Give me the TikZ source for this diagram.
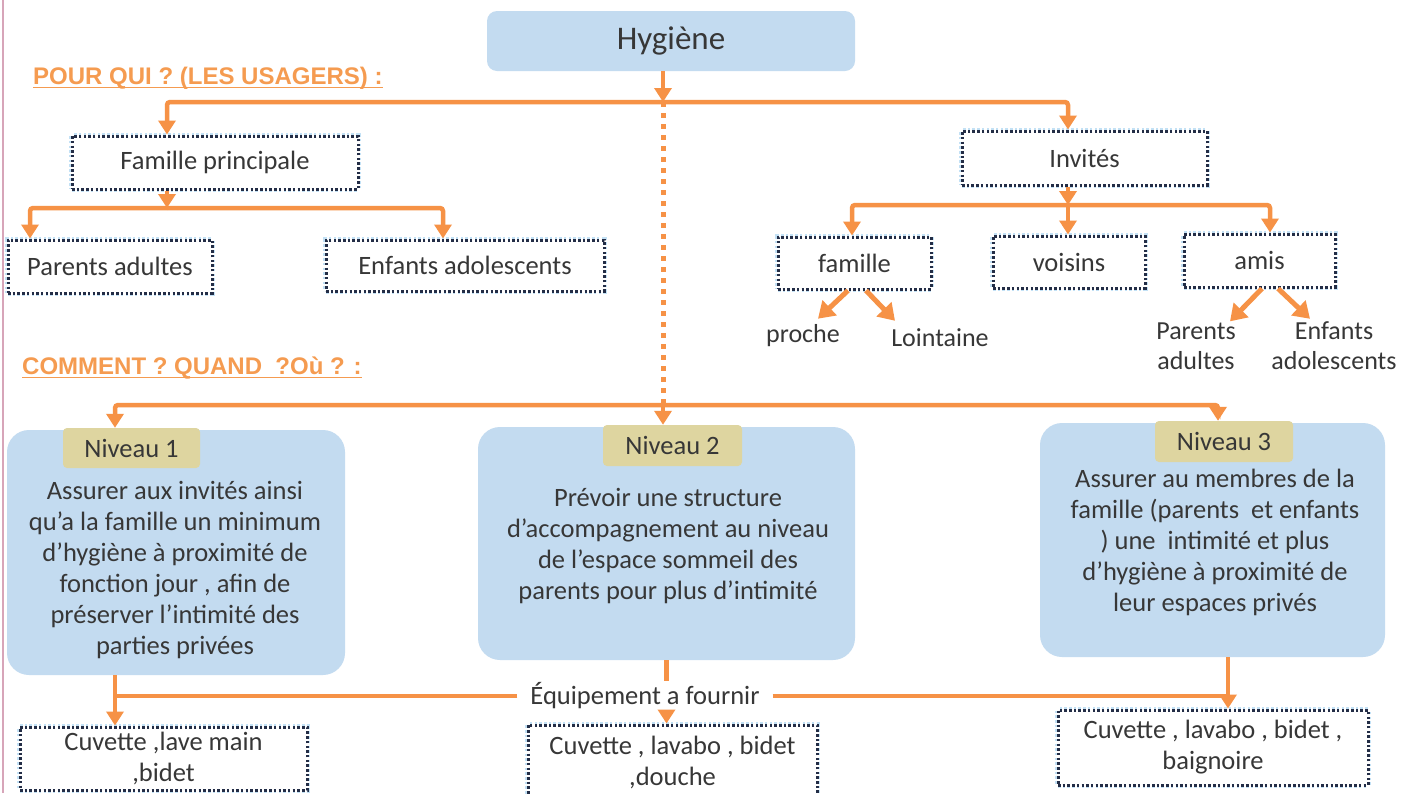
\documentclass[tikz,border=0pt]{standalone}
\usepackage{fontspec}
\setmainfont{Carlito}
\newfontfamily\headfont{Liberation Sans}
\usetikzlibrary{arrows.meta}
\definecolor{org}{RGB}{246,146,70}
\definecolor{headorg}{RGB}{245,155,80}
\definecolor{lblue}{RGB}{195,219,240}
\definecolor{tanlab}{RGB}{222,213,160}
\definecolor{dotc}{RGB}{35,45,70}
\definecolor{halo}{RGB}{195,225,245}
\definecolor{txt}{RGB}{55,55,55}
\definecolor{edgepink}{RGB}{215,165,185}
\newcommand{\orgul}[1]{\setbox0\hbox{#1}\rlap{\raisebox{-4pt}{\color{headorg}\rule{\wd0}{1.6pt}}}\box0}
\begin{document}
\begin{tikzpicture}[x=1pt,y=-1pt,
 every node/.style={text=txt, font=\fontsize{26.5}{31}\selectfont},
 dbox/.style={draw=dotc, line width=3pt, dash pattern=on 2.5pt off 2.2pt, fill=white, preaction={draw=halo, line width=6pt}, inner sep=0pt, align=center},
 bigbox/.style={fill=lblue, rounded corners=22pt, inner sep=0pt},
 lab/.style={fill=tanlab, rounded corners=4pt, inner sep=0pt, minimum width=137pt, minimum height=40pt},
 body/.style={align=center, inner sep=0pt},
 small/.style={align=center, inner sep=0pt, font=\fontsize{26}{30}\selectfont},
 conn/.style={draw=org, line width=4.5pt, rounded corners=3pt},
 arr/.style={conn, -{Triangle[width=17pt,length=14pt]}},
 arrd/.style={draw=org, line width=5pt, -{Triangle[width=20pt,length=16pt]}},
 dotline/.style={draw=org, line width=5pt, dash pattern=on 5pt off 6pt},
 head/.style={text=headorg, font=\headfont\bfseries\fontsize{24}{28}\selectfont, anchor=west, inner sep=0pt},
]
\useasboundingbox (0,0) rectangle (1417,793);
\fill[white] (0,0) rectangle (1417,793);
\draw[edgepink, line width=2pt] (3,0) -- (3,793);

% top
\node[bigbox, fill=lblue, rounded corners=10pt, minimum width=368pt, minimum height=60pt, font=\fontsize{33}{38}\selectfont] (hyg) at (671,41) {Hygiène};
\node[head] (h1) at (33,78) {\orgul{POUR QUI ? (LES USAGERS) :}};
\node[head] (h2) at (22,368) {\orgul{COMMENT ? QUAND \ ?Où ? :}};

% users
\node[dbox, minimum width=286pt, minimum height=53pt] (fp) at (215,162.5) {Famille principale};
\node[dbox, minimum width=204pt, minimum height=53pt] (pa) at (110,266.5) {Parents adultes};
\node[dbox, minimum width=278pt, minimum height=51pt] (ea) at (465,265.5) {Enfants adolescents};
\node[dbox, minimum width=245pt, minimum height=54pt] (inv) at (1084.5,158) {Invités};
\node[dbox, minimum width=153pt, minimum height=52pt] (fa) at (854.5,263) {famille};
\node[dbox, minimum width=152pt, minimum height=52pt] (vo) at (1069,262) {voisins};
\node[dbox, minimum width=151pt, minimum height=53pt] (am) at (1259.5,260.5) {amis};
\node[small] (pr) at (803,336) {proche};
\node[small] (lo) at (940,338) {Lointaine};
\node[small] (pa2) at (1196,346) {Parents\\adultes};
\node[small] (en2) at (1334,346) {Enfants\\adolescents};

% levels
\node[bigbox, minimum width=338pt, minimum height=245pt] (n1) at (176,552.5) {};
\node[bigbox, minimum width=377pt, minimum height=233pt] (n2) at (666.5,543.5) {};
\node[bigbox, minimum width=345pt, minimum height=234pt] (n3) at (1212.5,540) {};
\node[lab] (l1) at (131.5,448) {Niveau 1};
\node[lab, minimum width=139pt, minimum height=41pt] (l2) at (672.5,445.5) {Niveau 2};
\node[lab, minimum width=138pt, minimum height=41pt] (l3) at (1224,441.5) {Niveau 3};
\node[body] (t1) at (175,570.5) {Assurer aux invités ainsi\\qu’a la famille un minimum\\d’hygiène à proximité de\\fonction jour , afin de\\préserver l’intimité des\\parties privées};
\node[body] (t2) at (668,546.5) {Prévoir une structure\\d’accompagnement au niveau\\de l’espace sommeil des\\parents pour plus d’intimité};
\node[body] (t3) at (1215,542.5) {Assurer au membres de la\\famille (parents \ et enfants\\) une \ intimité et plus\\d’hygiène à proximité de\\leur espaces privés};

% equipment
\node[inner xsep=13pt, inner ysep=2pt] (eq) at (645,696) {Équipement a fournir};
\node[dbox, minimum width=287pt, minimum height=63pt] (c1) at (163.5,758.5) {Cuvette ,lave main\\,bidet};
\node[dbox, minimum width=289pt, minimum height=75pt] (c2) at (672.5,762.5) {Cuvette , lavabo , bidet\\,douche};
\node[dbox, minimum width=310pt, minimum height=75pt] (c3) at (1213,747.5) {Cuvette , lavabo , bidet ,\\baignoire};

% connectors top
\coordinate (b1) at (663,102);
\draw[arr] (hyg.south -| b1) -- (b1);
\draw[arr] (b1) -| ([xshift=-48pt]fp.north);
\draw[arr] (b1) -| ([xshift=-16.5pt]inv.north);

\coordinate (b2) at (167,208);
\draw[arr] ([xshift=-48pt]fp.south) -- (b2);
\draw[arr] (b2) -| ([xshift=-80pt]pa.north);
\draw[arr] (b2) -| ([xshift=-22pt]ea.north);

\coordinate (b3) at (1068,205);
\draw[arr] ([xshift=-16.5pt]inv.south) -- (b3);
\draw[arr] (b3) -| ([xshift=-2.5pt]fa.north);
\draw[arr] (b3) -- (vo.north -| b3);
\draw[arr] (b3) -| ([xshift=10.5pt]am.north);

\draw[arrd] ([xshift=-6.5pt]fa.south) -- ([xshift=15pt,yshift=6pt]pr.north);
\draw[arrd] ([xshift=11.5pt]fa.south) -- ([xshift=-45pt,yshift=8pt]lo.north);
\draw[arrd] ([xshift=2.5pt]am.south) -- ([xshift=34pt,yshift=1pt]pa2.north);
\draw[arrd] ([xshift=18.5pt]am.south) -- ([xshift=-24pt,yshift=3pt]en2.north);

% connectors levels
\coordinate (b4) at (663,405);
\draw[dotline] (b1) -- (b4);
\draw[arr] (b4) -- (l2.north -| b4);
\draw[arr] (b4) -| ([xshift=-16.5pt]l1.north);
\draw[arr] (b4) -| ([xshift=-6pt]l3.north);

% connectors equipment
\coordinate (e1) at (115,696);
\coordinate (e3) at (1228,696);
\draw[arr] ([xshift=-61pt]n1.south) -- ([xshift=-48.5pt]c1.north);
\draw[conn] (eq.west) -- (eq.west -| e1);
\draw[conn] (eq.east) -- (eq.east -| e3);
\draw[conn] (n2.south) -- (n2.south |- eq.north);
\draw[arr] (n2.south |- eq.south) -- (n2.south |- c2.north);
\draw[arr] ([xshift=15.5pt]n3.south) -- ([xshift=15pt]c3.north);
\end{tikzpicture}
\end{document}
